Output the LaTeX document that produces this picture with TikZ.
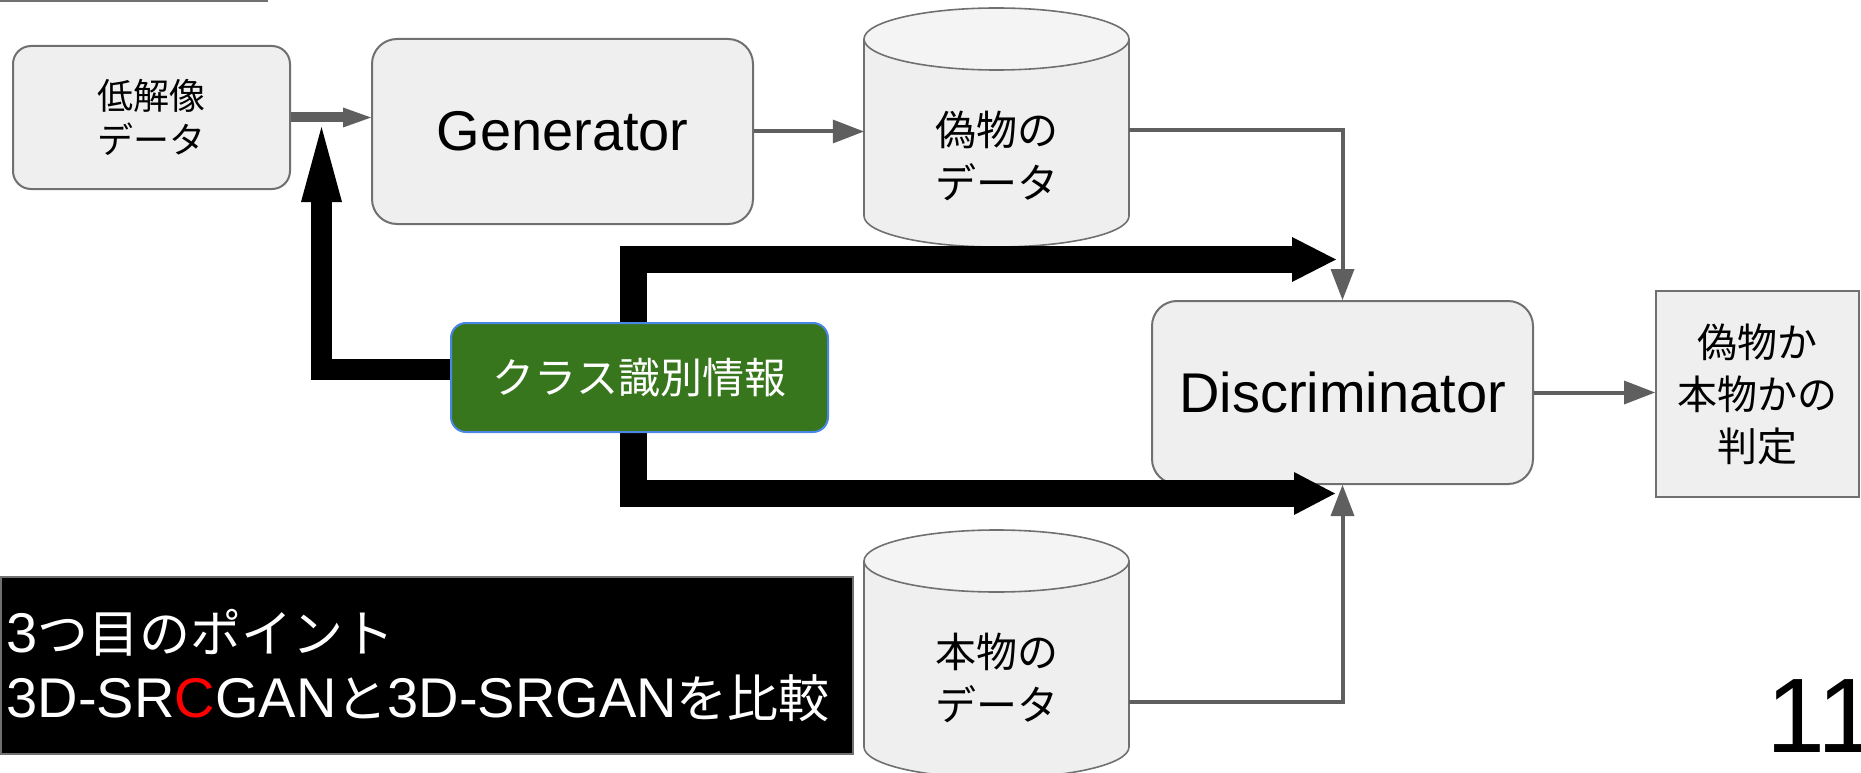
\documentclass[tikz,border=0pt]{standalone}
\usepackage{fontspec}
\setmainfont{Liberation Sans}
\newfontfamily\cjk{Noto Sans CJK JP}
\usetikzlibrary{arrows.meta}
\definecolor{boxfill}{HTML}{EFEFEF}
\definecolor{bordergray}{HTML}{707070}
\definecolor{linegray}{HTML}{5F5F5F}
\definecolor{clsgreen}{HTML}{38761D}
\definecolor{clsblue}{HTML}{4A86E8}
\pgfdeclarelayer{front}
\pgfsetlayers{main,front}
\newcommand\jp[1]{{\cjk\fontsize{51pt}{65pt}\selectfont #1}}
\tikzset{
  box/.style={draw=bordergray, fill=boxfill, line width=2pt, inner sep=0pt, align=center},
  cyltext/.style={inner sep=0pt, minimum width=265pt, align=center, font=\cjk\fontsize{41pt}{53pt}\selectfont},
  cylbody/.style={fill=boxfill},
  cyledge/.style={draw=bordergray, line width=1.6pt},
  conn/.style={draw=linegray, line width=4pt, -{Triangle[length=31pt,width=24pt,line width=0pt]}},
  blk/.style={draw=black, line join=miter},
}
\begin{document}
\begin{tikzpicture}[x=1pt,y=-1pt]
\useasboundingbox (0,0) rectangle (1861,773);
% top-left rule
\draw[bordergray, line width=2pt] (0,1) -- (268,1);

% boxes
\node[box, rounded corners=18pt, minimum width=277pt, minimum height=143pt,
      font=\cjk\fontsize{36pt}{44pt}\selectfont] (lowres) at (151.5,117.5) {低解像\\データ};
\node[box, rounded corners=25pt, minimum width=381pt, minimum height=185pt,
      font=\fontsize{56pt}{67pt}\selectfont] (gen) at (562.5,131.5) {Generator};
\node[box, rounded corners=25pt, minimum width=381pt, minimum height=183pt,
      font=\fontsize{56pt}{67pt}\selectfont] (disc) at (1342.5,392.5) {Discriminator};
\node[box, minimum width=203pt, minimum height=206pt,
      font=\cjk\fontsize{40pt}{52pt}\selectfont] (res) at (1757.5,394) {偽物か\\本物かの\\判定};

% cylinders
\path[cylbody] (864,39) -- (864,216) arc[start angle=180,end angle=360,x radius=132.5pt,y radius=31pt] -- (1129,39) -- cycle;
\draw[cyledge] (864,39) -- (864,216) arc[start angle=180,end angle=360,x radius=132.5pt,y radius=31pt] -- (1129,39);
\filldraw[cyledge, fill=boxfill!70!white] (996.5,39) ellipse[x radius=132.5pt, y radius=31pt];
\node[cyltext] (fake) at (996.5,156) {偽物の\\データ};

\path[cylbody] (864,561) -- (864,747) arc[start angle=180,end angle=360,x radius=132.5pt,y radius=31pt] -- (1129,561) -- cycle;
\draw[cyledge] (864,561) -- (864,747) arc[start angle=180,end angle=360,x radius=132.5pt,y radius=31pt] -- (1129,561);
\filldraw[cyledge, fill=boxfill!70!white] (996.5,561) ellipse[x radius=132.5pt, y radius=31pt];
\node[cyltext] (real) at (996.5,678) {本物の\\データ};

% class info box (front)
\begin{pgfonlayer}{front}
\node[draw=clsblue, fill=clsgreen, line width=2pt, rounded corners=15pt, inner sep=0pt,
      minimum width=377pt, minimum height=109pt, text=white,
      font=\cjk\fontsize{42pt}{50pt}\selectfont] (cls) at (639.5,377.5) {クラス識別情報};
\end{pgfonlayer}

% note box
\node[fill=black, draw=bordergray, line width=1.5pt, anchor=north west, inner xsep=4pt, inner ysep=0pt,
      minimum width=852pt, minimum height=177pt, text width=840pt, align=left, text=white,
      font=\fontsize{56pt}{65pt}\selectfont] (note) at (0,576)
  {3\jp{つ目のポイント}\\3D-SR\textcolor{red}{C}GAN\jp{と}3D-SRGAN\jp{を比較}};

% page number
\node[anchor=base east, inner sep=0pt, font=\fontsize{106pt}{120pt}\selectfont] (pnum) at (1858,752) {11\kern-19pt};

% free ends
\coordinate (uptip) at (321.5,127);
\coordinate (toptip) at (1336,259.5);
\coordinate (bottip) at (1335,493.5);

% gray connectors
\draw[draw=linegray, line width=10pt, -{Triangle[length=28pt,width=20pt,line width=0pt]}]
  (lowres.east) -- (lowres.east -| gen.west);
\draw[conn] (gen.east) -- (gen.east -| fake.west);
\draw[conn] ([yshift=26pt]fake.east) -| (disc.north);
\draw[conn] ([yshift=-24pt]real.east) -| (disc.south);
\draw[conn] (disc.east) -- (disc.east -| res.west);

% black connectors
\draw[blk, line width=21pt, -{Triangle[length=75pt,width=41pt,line width=0pt]}]
  ([yshift=8pt]cls.west) -| (uptip);
\draw[blk, line width=27pt, -{Triangle[length=44pt,width=45pt,line width=0pt]}]
  ([xshift=-6.5pt]cls.north) |- (toptip);
\draw[blk, line width=27pt, -{Triangle[length=41pt,width=43pt,line width=0pt]}]
  ([xshift=-6.5pt]cls.south) |- (bottip);
\end{tikzpicture}
\end{document}
